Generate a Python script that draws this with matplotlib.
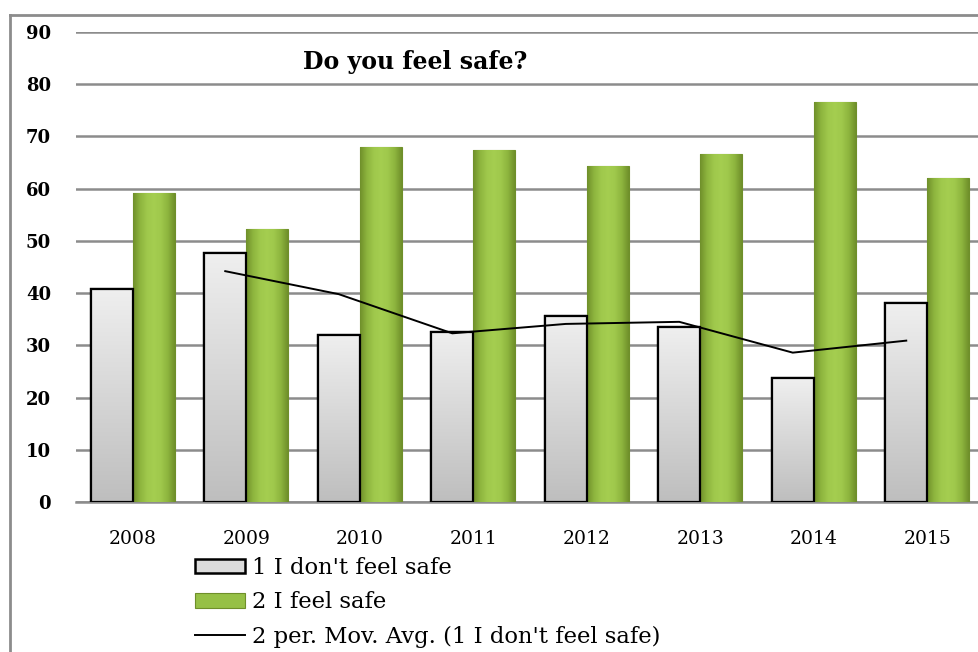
import matplotlib
matplotlib.use("Agg")
import matplotlib.pyplot as plt
import numpy as np
from matplotlib.patches import Rectangle
from matplotlib.lines import Line2D
from matplotlib.colors import LinearSegmentedColormap

years = ["2008", "2009", "2010", "2011", "2012", "2013", "2014", "2015"]
not_safe = [40.8, 47.7, 32.0, 32.6, 35.6, 33.5, 23.7, 38.1]
feel_safe = [59.2, 52.3, 68.0, 67.4, 64.3, 66.6, 76.6, 62.0]
mov_avg = [None, 44.2, 39.8, 32.3, 34.1, 34.5, 28.6, 30.9]

serif = ["DejaVu Serif"]
plt.rcParams["font.family"] = serif

fig = plt.figure(figsize=(9.79, 6.52), dpi=100)
W, H = 979, 652
ax = fig.add_axes([76 / W, 150 / H, (984 - 76) / W, (502 - 32) / H])

x = np.arange(len(years))
bw = 0.37

grey_cmap = LinearSegmentedColormap.from_list("g", ["#bebebe", "#efefef"])
green_cmap = LinearSegmentedColormap.from_list(
    "gr", ["#6f8f2a", "#8db43e", "#9fc84c", "#a5ce50", "#9fc84c", "#8db43e", "#6f8f2a"])

grey_bars = ax.bar(x - bw / 2, not_safe, bw, color="#dcdcdc", edgecolor="black",
                   linewidth=1.6, zorder=3)
green_bars = ax.bar(x + bw / 2, feel_safe, bw, color="#96c046", edgecolor="#6f8f2a",
                    linewidth=0.8, zorder=3)

# gradient fills
vgrad = np.linspace(0, 1, 256).reshape(-1, 1)
hgrad = np.linspace(0, 1, 256).reshape(1, -1)
for b in grey_bars:
    x0, y0, w, h = b.get_x(), b.get_y(), b.get_width(), b.get_height()
    im = ax.imshow(vgrad, cmap=grey_cmap, extent=(x0, x0 + w, y0, y0 + h),
                   origin="lower", aspect="auto", zorder=3.5)
    im.set_clip_path(b)
    ax.add_patch(Rectangle((x0, y0), w, h, fill=False, edgecolor="black",
                           linewidth=1.6, zorder=4))
for b in green_bars:
    x0, y0, w, h = b.get_x(), b.get_y(), b.get_width(), b.get_height()
    im = ax.imshow(hgrad, cmap=green_cmap, extent=(x0, x0 + w, y0, y0 + h),
                   origin="lower", aspect="auto", zorder=3.5)
    im.set_clip_path(b)

ma_x = [xi - bw / 2 for xi, v in zip(x, mov_avg) if v is not None]
ma_y = [v for v in mov_avg if v is not None]
ax.plot(ma_x, ma_y, color="black", linewidth=1.4, zorder=5)

ax.set_xlim(-0.5, len(years) - 0.5)
ax.set_ylim(0, 90)
ax.set_yticks(range(0, 91, 10))
ax.set_xticks(x)
ax.set_xticklabels(years, fontsize=13.5)
for lbl in ax.get_yticklabels():
    lbl.set_fontweight("bold")
    lbl.set_fontsize(13)
ax.tick_params(axis="both", length=0)
ax.tick_params(axis="y", pad=18)
ax.tick_params(axis="x", pad=20)
ax.grid(axis="y", color="#8c8c8c", linewidth=1.8, zorder=0)
ax.set_axisbelow(True)
for s in ["top", "right", "left"]:
    ax.spines[s].set_visible(False)
ax.spines["bottom"].set_color("#8c8c8c")
ax.spines["bottom"].set_linewidth(1.8)

fig.text(303 / W, 1 - 62 / H, "Do you feel safe?", fontsize=17, fontweight="bold",
         va="center", ha="left")

# outer chart border
fig.add_artist(Line2D([10 / W, 10 / W], [0, 1 - 15 / H], color="#8c8c8c",
                      linewidth=2, transform=fig.transFigure))
fig.add_artist(Line2D([10 / W, 1], [1 - 15 / H, 1 - 15 / H], color="#8c8c8c",
                      linewidth=2, transform=fig.transFigure))

handles = [
    Rectangle((0, 0), 1, 1, facecolor="#dcdcdc", edgecolor="black", linewidth=1.8),
    Rectangle((0, 0), 1, 1, facecolor="#96c046", edgecolor="#6f8f2a", linewidth=0.8),
    Line2D([0], [0], color="black", linewidth=1.4),
]
labels = ["1 I don't feel safe", "2 I feel safe", "2 per. Mov. Avg. (1 I don't feel safe)"]
fig.legend(handles, labels, loc="upper left", bbox_to_anchor=(195 / W, 1 - 557 / H),
           frameon=False, fontsize=16.3, handlelength=2.2, handleheight=0.6,
           handletextpad=0.3, labelspacing=0.55, borderpad=0, borderaxespad=0)

fig.savefig("out.png", dpi=100)
